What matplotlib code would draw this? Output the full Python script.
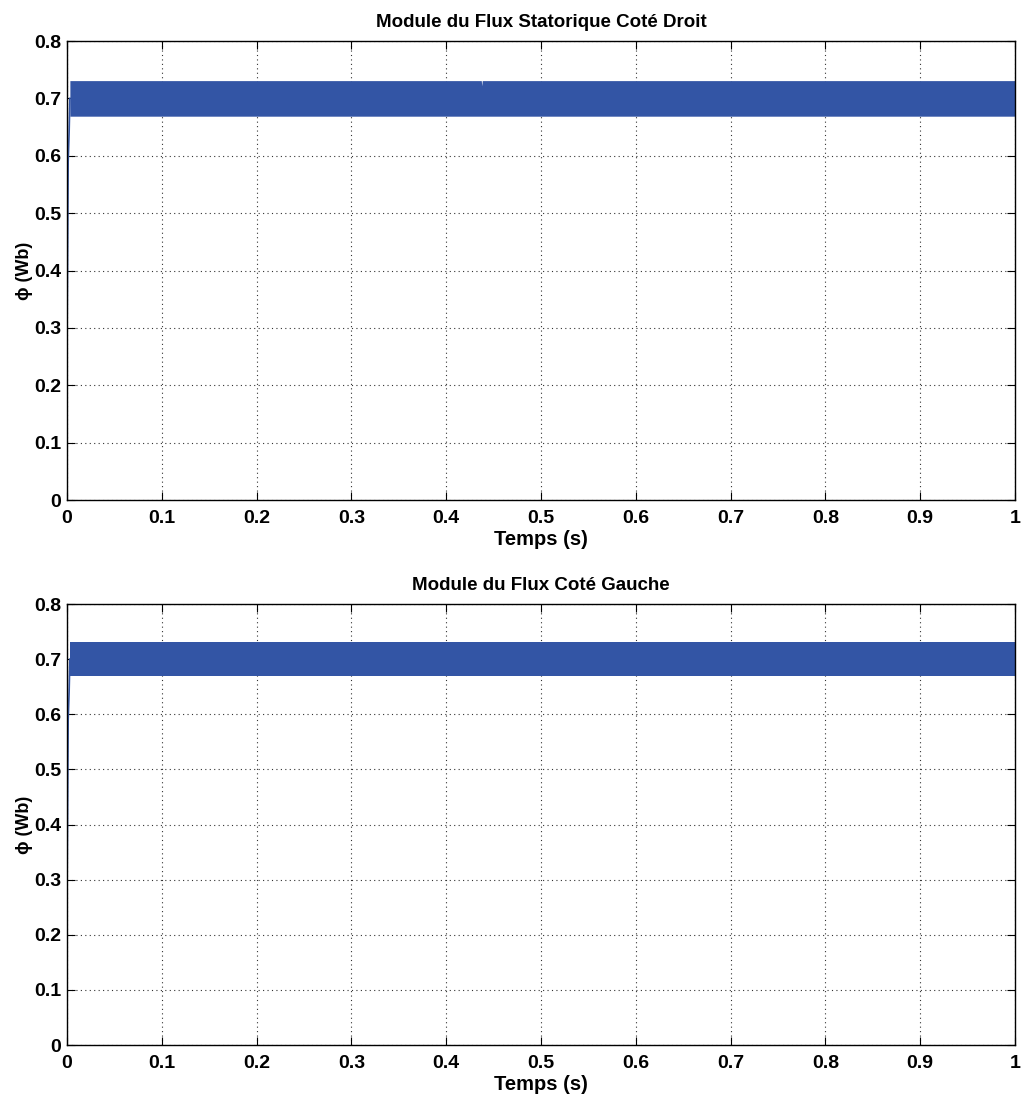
import matplotlib
matplotlib.use('Agg')
import matplotlib.pyplot as plt
import numpy as np

plt.rcParams['font.family'] = ['Liberation Sans', 'DejaVu Sans']
plt.rcParams['font.weight'] = 'bold'
plt.rcParams['axes.linewidth'] = 1.0

# data
titles = ['Module du Flux Statorique Coté Droit', 'Module du Flux Coté Gauche']
xticks = [0, 0.1, 0.2, 0.3, 0.4, 0.5, 0.6, 0.7, 0.8, 0.9, 1]
yticks = [0, 0.1, 0.2, 0.3, 0.4, 0.5, 0.6, 0.7, 0.8]

# start-up transient (s, Wb)
t_start = [0.0, 0.0012, 0.0022, 0.003]
phi_start = [0.275, 0.59, 0.64, 0.70]

# envelope of the fast ripple after start-up
t_band_top = [0.003, 0.437, 0.4375, 0.438, 1.0]
upper_top = [0.731, 0.731, 0.722, 0.731, 0.731]
lower_top = [0.669, 0.669, 0.669, 0.669, 0.669]

t_band_bot = [0.003, 1.0]
upper_bot = [0.731, 0.731]
lower_bot = [0.669, 0.669]

blue = '#3355a5'

fig = plt.figure(figsize=(10.25, 10.97), dpi=100)
ax1 = fig.add_axes([0.0654, 0.5442, 0.9248, 0.4184])
ax2 = fig.add_axes([0.0654, 0.0474, 0.9248, 0.4020])

bands = [(t_band_top, lower_top, upper_top), (t_band_bot, lower_bot, upper_bot)]

for ax, title, (tb, lo, up) in zip([ax1, ax2], titles, bands):
    ax.plot(t_start, phi_start, color=blue, lw=1.2)
    ax.fill_between(tb, lo, up, color=blue, lw=0)
    ax.set_xlim(0, 1)
    ax.set_ylim(0, 0.8)
    ax.set_xticks(xticks)
    ax.set_yticks(yticks)
    ax.set_xticklabels([f'{v:g}' for v in xticks])
    ax.set_yticklabels([f'{v:g}' for v in yticks])
    ax.tick_params(direction='in', top=True, right=True, labelsize=14,
                   length=6, width=0.8)
    ax.tick_params(axis='x', pad=7)
    ax.tick_params(axis='y', pad=4)
    ax.grid(True, linestyle=(0, (1, 3)), color='#333333', lw=0.8)
    ax.set_axisbelow(True)
    ax.set_title(title, fontsize=13.5, fontweight='bold', pad=10)
    ax.set_xlabel('Temps (s)', fontsize=14.5, fontweight='bold', labelpad=2)
    ax.set_ylabel('\u03d5 (Wb)', fontsize=13, fontweight='bold', labelpad=1)

fig.savefig('out.png', dpi=100)
